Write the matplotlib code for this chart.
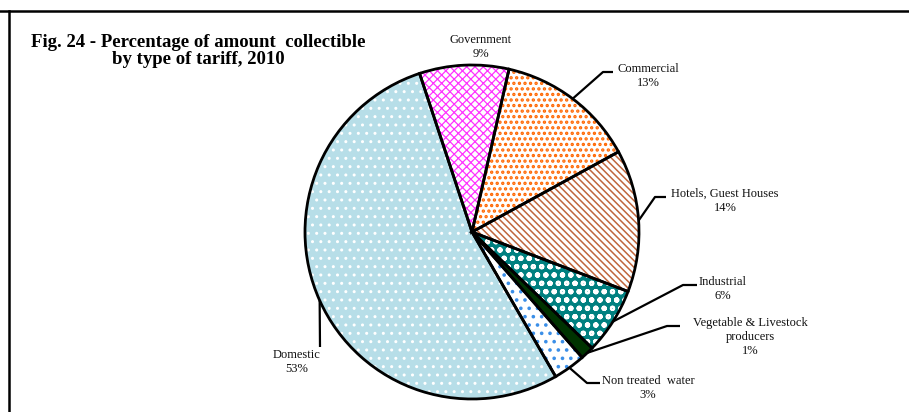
import numpy as np
import matplotlib
matplotlib.use("Agg")
import matplotlib.pyplot as plt

plt.rcParams['font.family'] = ['Liberation Serif', 'DejaVu Serif']
plt.rcParams['hatch.linewidth'] = 1.0

# data (clockwise from the top-left)
tariffs = ["Government", "Commercial", "Hotels, Guest Houses", "Industrial",
           "Vegetable & Livestock\nproducers", "Non treated  water", "Domestic"]
shares = [8.6, 13.4, 13.7, 6.4, 1.3, 3.1, 53.0]
pct_labels = ["9%", "13%", "14%", "6%", "1%", "3%", "53%"]

faces = ['white', 'white', 'white', '#008080', '#003300', 'white', '#b7dee8']
hatch_cols = ['#ff33ff', '#ff6600', '#c0663c', 'white', '#003300', '#3b8fe8', 'white']
hatches = ['xxxx', '...', '\\\\\\\\\\', 'oo', None, '..', '..']
hatch_lw = [0.9, 1.6, 1.1, 1.5, 1.0, 1.4, 1.0]

W, H = 909, 412
fig = plt.figure(figsize=(W / 100, H / 100), dpi=100)
ax = fig.add_axes([0, 0, 1, 1])

cx, cy, r = 472, H - 232, 167

wedges, _ = ax.pie(shares, center=(cx, cy), radius=r, startangle=108.3,
                   counterclock=False, colors=faces,
                   wedgeprops=dict(linewidth=0))
for w, hc, h, hl in zip(wedges, hatch_cols, hatches, hatch_lw):
    w.set_edgecolor(hc)
    if h:
        w.set_hatch(h)
        if hasattr(w, 'set_hatch_linewidth'):
            w.set_hatch_linewidth(hl)
ax.pie(shares, center=(cx, cy), radius=r, startangle=108.3, counterclock=False,
       colors=['none'] * len(shares),
       wedgeprops=dict(linewidth=2, edgecolor='black', fill=False))

# label layout: elbow point, end of leader, text centre (pixel coords, y from top)
layout = [
    (None, None, (481, 47)),
    ((603, 72), (613, 72), (648, 76)),
    ((655, 197), (666, 197), (725, 201)),
    ((683, 285), (697, 285), (723, 289)),
    ((667, 326), (680, 326), (750, 337)),
    ((587, 383), (600, 383), (648, 388)),
    ((320, 347), (320, 347), (297, 362)),
]

for w, name, pct, (elbow, end, txt) in zip(wedges, tariffs, pct_labels, layout):
    ax.text(txt[0], H - txt[1], name + "\n" + pct, ha='center', va='center',
            fontsize=9, linespacing=1.25, color='#111111')
    if elbow is None:
        continue
    mid = np.deg2rad((w.theta1 + w.theta2) / 2)
    sx, sy = cx + r * np.cos(mid), cy + r * np.sin(mid)
    ax.plot([sx, elbow[0], end[0]], [sy, H - elbow[1], H - end[1]],
            color='black', lw=1.6, solid_capstyle='butt')

ax.text(198, H - 51, "Fig. 24 - Percentage of amount  collectible\nby type of tariff, 2010",
        ha='center', va='center', fontsize=13.5, fontweight='bold', linespacing=0.98)

# frame
ax.plot([0, W], [H - 11, H - 11], color='black', lw=1.8)
ax.plot([9, 9], [H - 11, 0], color='black', lw=1.8)

ax.set_xlim(0, W)
ax.set_ylim(0, H)
ax.set_aspect('auto')
ax.axis('off')
fig.savefig("out.png", dpi=100)
